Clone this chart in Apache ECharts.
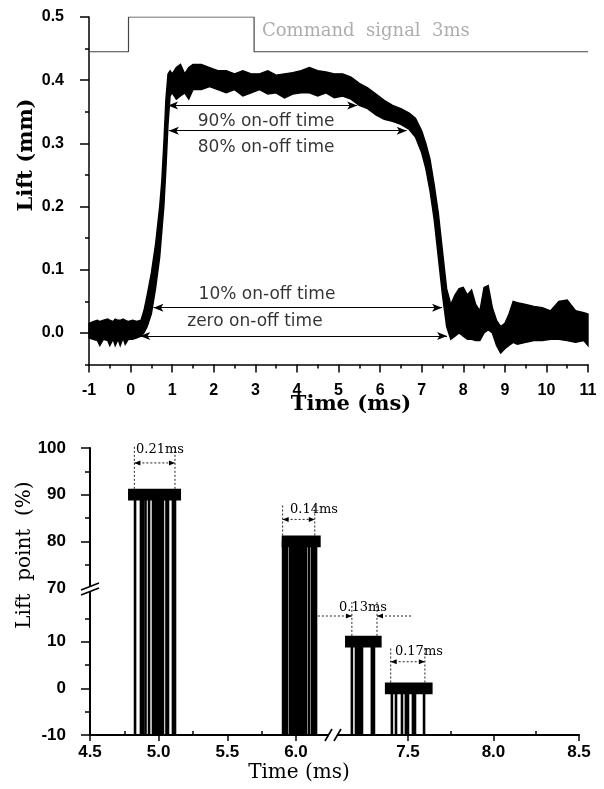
<!DOCTYPE html>
<html><head><meta charset="utf-8">
<script src="https://cdn.jsdelivr.net/npm/echarts@6/dist/echarts.min.js"></script>
<style>html,body{margin:0;padding:0;background:#fff}#c{width:604px;height:789px}</style>
</head><body><div id="c"></div>
<script>
// ---------- top panel data ----------
const cmdTime = [-1, -0.05, -0.05, 2.97, 2.97, 11];
const cmdLift = [0.445, 0.445, 0.5, 0.5, 0.445, 0.445];
const liftTime = [-1.0,-0.9,-0.8,-0.74,-0.65,-0.55,-0.5,-0.42,-0.37,-0.3,-0.25,-0.18,-0.13,-0.05,0.05,0.15,0.25,0.32,0.4,0.5,0.6,0.7,0.75,0.8,0.85,0.9,0.95,1.0,1.1,1.2,1.3,1.4,1.5,1.7,1.9,2.1,2.3,2.5,2.7,2.9,3.1,3.3,3.5,3.7,3.9,4.1,4.3,4.5,4.7,4.9,5.1,5.3,5.5,5.7,5.9,6.1,6.3,6.5,6.7,6.85,7.0,7.1,7.2,7.3,7.4,7.5,7.6,7.7,7.8,7.9,8.0,8.1,8.2,8.3,8.4,8.5,8.6,8.7,8.8,8.9,9.0,9.1,9.2,9.3,9.5,9.7,9.9,10.1,10.3,10.5,10.7,10.9,11.0];
const liftLow = [-0.008,-0.01,-0.012,-0.02,-0.01,-0.012,-0.02,-0.01,-0.02,-0.01,-0.02,-0.008,-0.018,-0.01,-0.01,-0.008,-0.005,0.0,0.01,0.03,0.07,0.12,0.16,0.2,0.26,0.33,0.375,0.38,0.37,0.375,0.38,0.37,0.385,0.385,0.39,0.385,0.38,0.385,0.375,0.38,0.385,0.378,0.38,0.372,0.378,0.38,0.38,0.375,0.38,0.372,0.375,0.37,0.36,0.355,0.345,0.338,0.335,0.33,0.322,0.31,0.285,0.26,0.225,0.18,0.12,0.06,0.01,-0.01,-0.005,0.0,-0.005,-0.01,-0.01,-0.012,-0.012,0.0,0.005,0.0,-0.02,-0.032,-0.025,-0.02,-0.015,-0.018,-0.015,-0.012,-0.012,-0.01,-0.01,-0.012,-0.015,-0.012,-0.02];
const liftHigh = [0.015,0.018,0.02,0.018,0.02,0.022,0.02,0.018,0.022,0.02,0.02,0.022,0.02,0.018,0.02,0.018,0.02,0.035,0.06,0.095,0.14,0.2,0.24,0.3,0.37,0.41,0.415,0.41,0.42,0.425,0.41,0.42,0.425,0.425,0.42,0.415,0.415,0.41,0.415,0.41,0.41,0.415,0.408,0.41,0.412,0.415,0.42,0.415,0.413,0.41,0.41,0.405,0.395,0.388,0.378,0.368,0.36,0.355,0.348,0.34,0.32,0.3,0.275,0.235,0.19,0.13,0.07,0.045,0.06,0.07,0.072,0.06,0.068,0.045,0.035,0.072,0.075,0.04,0.02,0.01,0.015,0.03,0.05,0.048,0.045,0.042,0.04,0.035,0.05,0.052,0.035,0.032,0.03];
const xTicksTop = [-1,0,1,2,3,4,5,6,7,8,9,10,11];
const xMinorTop = [-0.5,0.5,1.5,2.5,3.5,4.5,5.5,6.5,7.5,8.5,9.5,10.5];
const yTicksTop = [0,0.1,0.2,0.3,0.4,0.5];
const yMinorTop = [-0.05,0.05,0.15,0.25,0.35,0.45];
const onOffNames = ['90% on-off time','80% on-off time','10% on-off time','zero on-off time'];
const onOffStart = [0.90, 0.92, 0.55, 0.23];
const onOffEnd = [5.45, 6.64, 7.49, 7.61];
const onOffLevel = [0.36, 0.32, 0.04, -0.005];
const onOffLabelX = [3.26, 3.26, 3.28, 2.99];
const onOffLabelY = [0.334, 0.294, 0.060, 0.0174];
const cmdLabel = 'Command  signal  3ms';
const cmdLabelX = 3.16, cmdLabelY = 0.478;

// ---------- bottom panel data ----------
const pointLevels = [90, 80, 10, 0];
const pointTimes = [
  [4.828,4.871,4.886,4.904,4.930,4.959,4.973,4.988,5.002,5.017,5.031,5.057,5.068,5.104,5.119],
  [5.906,5.920,5.935,5.957,5.972,5.986,6.000,6.015,6.030,6.044,6.059,6.073,6.095,6.117,6.131,6.146],
  [7.172,7.196,7.208,7.219,7.231,7.289,7.301],
  [7.406,7.430,7.465,7.488,7.500,7.529,7.541,7.594]
];
const capStart = [4.777, 5.896, 7.132, 7.365];
const capEnd = [5.163, 6.180, 7.346, 7.644];
const spanLabels = ['0.21ms','0.14ms','0.13ms','0.17ms'];
const spanLeft = [4.823, 5.903, 7.172, 7.399];
const spanRight = [5.119, 6.137, 7.319, 7.599];
const spanArrowY = [96.8, 84.7, 15.5, 5.7];
const spanLabelY = [99.6, 86.7, 17.4, 7.9];
const spanLabelX = [5.01, 6.131, 7.237, 7.564];
const spanInward = [false, false, true, false];
const xTicksBottom = [4.5,5.0,5.5,6.0,7.5,8.0,8.5];
const xMinorBottom = [4.75,5.25,5.75,7.75,8.25];
const yLabelsBottom = [-10,0,10,70,80,90,100];
const yTicksBottom = [-10,0,10,80,90,100];
const yMinorBottom = [-5,5,15,75,85,95];

// ---------- broken-axis transforms (bottom panel) ----------
const X_SPLIT = 6.6, X_BASE2 = 6.8156, X_SCALE2 = 1.2455, X_ORIG2 = 7.5;
const Y_SPLIT = 40, Y_SHIFT = 48.5;
const xT = v => v < X_SPLIT ? v : X_BASE2 + (v - X_ORIG2) * X_SCALE2;
const xInv = v => v < 6.5 ? v : X_ORIG2 + (v - X_BASE2) / X_SCALE2;
const yT = v => v > Y_SPLIT ? v - Y_SHIFT : v;
const yInv = v => v > 21 ? v + Y_SHIFT : v;
const X_BREAK = 6.2695, Y_BREAK = 21.3;

const chart = echarts.init(document.getElementById('c'), null, {renderer:'canvas'});

const traceData = [];
pointTimes.forEach((arr,g)=>arr.forEach(t=>traceData.push([xT(t), yT(pointLevels[g])])));
const capData = pointLevels.map((l,g)=>[xT(capStart[g]), xT(capEnd[g]), yT(l)]);
const spanData = pointLevels.map((l,g)=>[xT(spanLeft[g]), xT(spanRight[g]), yT(l), yT(spanArrowY[g]), yT(spanLabelY[g]), g, xT(spanLabelX[g])]);

function arrowHead(x, y, dir){
  return {type:'polygon', shape:{points:[[x,y],[x-dir*6,y-2.5],[x-dir*6,y+2.5]]}, style:{fill:'#000'}};
}

const axisBlack = {color:'#000', width:1.5};
const tickFontTop = {color:'#000', fontFamily:'Liberation Sans', fontWeight:'bold', fontSize:16};
const tickFontBot = {color:'#000', fontFamily:'Liberation Sans', fontWeight:'bold', fontSize:17};

const option = {
  animation:false,
  backgroundColor:'#fff',
  grid:[
    {left:89, top:17, width:499, height:347.5},
    {left:90, top:448, width:489, height:287}
  ],
  xAxis:[
    {gridIndex:0, type:'value', position:'bottom', min:-1, max:11, splitLine:{show:false},
     axisLine:{onZero:false, lineStyle:axisBlack},
     axisTick:{customValues:xTicksTop, length:8, lineStyle:axisBlack},
     axisLabel:Object.assign({customValues:xTicksTop, margin:18, formatter:v=>String(Math.round(v))}, tickFontTop)},
    {gridIndex:0, type:'value', position:'bottom', min:-1, max:11, splitLine:{show:false},
     axisLine:{show:false, onZero:false}, axisLabel:{show:false},
     axisTick:{customValues:xMinorTop, length:4, lineStyle:axisBlack}},
    {gridIndex:1, type:'value', position:'bottom', min:4.5, max:xT(8.5), splitLine:{show:false},
     axisLine:{onZero:false, lineStyle:{color:'#000', width:2}},
     axisTick:{customValues:xTicksBottom.map(xT), length:6, lineStyle:axisBlack},
     axisLabel:Object.assign({customValues:xTicksBottom.map(xT), margin:9, formatter:v=>xInv(v).toFixed(1)}, tickFontBot)},
    {gridIndex:1, type:'value', position:'bottom', min:4.5, max:xT(8.5), splitLine:{show:false},
     axisLine:{show:false, onZero:false}, axisLabel:{show:false},
     axisTick:{customValues:xMinorBottom.map(xT), length:4, inside:true, lineStyle:axisBlack}}
  ],
  yAxis:[
    {gridIndex:0, type:'value', position:'left', min:-0.05, max:0.5, splitLine:{show:false},
     axisLine:{onZero:false, lineStyle:axisBlack},
     axisTick:{customValues:yTicksTop, length:9, lineStyle:axisBlack},
     axisLabel:Object.assign({customValues:yTicksTop, margin:25, formatter:v=>v.toFixed(1)}, tickFontTop)},
    {gridIndex:0, type:'value', position:'left', min:-0.05, max:0.5, splitLine:{show:false},
     axisLine:{show:false, onZero:false}, axisLabel:{show:false},
     axisTick:{customValues:yMinorTop, length:4, lineStyle:axisBlack}},
    {gridIndex:1, type:'value', position:'left', min:-10, max:yT(100), splitLine:{show:false},
     axisLine:{onZero:false, lineStyle:{color:'#000', width:2}},
     axisTick:{customValues:yTicksBottom.map(yT), length:9, lineStyle:axisBlack},
     axisLabel:Object.assign({customValues:yLabelsBottom.map(yT), margin:24, formatter:v=>String(Math.round(yInv(v)))}, tickFontBot)},
    {gridIndex:1, type:'value', position:'left', min:-10, max:yT(100), splitLine:{show:false},
     axisLine:{show:false, onZero:false}, axisLabel:{show:false},
     axisTick:{customValues:yMinorBottom.map(yT), length:5, lineStyle:axisBlack}}
  ],
  series:[
    {type:'line', name:'command', xAxisIndex:0, yAxisIndex:0, data:cmdTime.map((t,i)=>[t,cmdLift[i]]),
     showSymbol:false, lineStyle:{color:'#444', width:1.2}, z:3},
    {type:'custom', name:'lift', xAxisIndex:0, yAxisIndex:0, data:[[0]], z:4,
     renderItem:(p,api)=>{
       const pts = [];
       for(let i=0;i<liftTime.length;i++) pts.push(api.coord([liftTime[i], liftHigh[i]]));
       for(let i=liftTime.length-1;i>=0;i--) pts.push(api.coord([liftTime[i], liftLow[i]]));
       return {type:'polygon', shape:{points:pts}, style:{fill:'#000', stroke:'#000', lineWidth:1.4}};
     }},
    {type:'scatter', name:'onoff', xAxisIndex:0, yAxisIndex:0, symbolSize:0, z:6,
     data:onOffNames.map((n,i)=>({name:n, value:[onOffLabelX[i], onOffLabelY[i]]})),
     label:{show:true, position:'inside', formatter:'{b}', color:'#000', fontFamily:'DejaVu Sans', fontSize:17},
     markLine:{silent:true, symbol:['arrow','arrow'], symbolSize:[6,10], label:{show:false},
       lineStyle:{color:'#000', width:1, type:'solid'},
       data:onOffNames.map((n,i)=>[{coord:[onOffStart[i], onOffLevel[i]]},{coord:[onOffEnd[i], onOffLevel[i]]}])}},
    {type:'scatter', name:'cmdlabel', xAxisIndex:0, yAxisIndex:0, symbolSize:0, z:6,
     data:[{name:cmdLabel, value:[cmdLabelX, cmdLabelY]}],
     label:{show:true, position:'right', distance:0, formatter:'{b}', color:'#999', fontFamily:'DejaVu Serif', fontSize:18}},
    {type:'custom', name:'traces', xAxisIndex:2, yAxisIndex:2, data:traceData, z:3,
     renderItem:(p,api)=>{
       const top = api.coord([api.value(0), api.value(1)]);
       const base = api.coord([api.value(0), -10]);
       return {type:'line', shape:{x1:top[0],y1:top[1],x2:base[0],y2:base[1]}, style:{stroke:'#000', lineWidth:2.6}};
     }},
    {type:'custom', name:'caps', xAxisIndex:2, yAxisIndex:2, data:capData, z:4,
     renderItem:(p,api)=>{
       const a = api.coord([api.value(0), api.value(2)+1.25]);
       const b = api.coord([api.value(1), api.value(2)-1.25]);
       return {type:'rect', shape:{x:a[0], y:a[1], width:b[0]-a[0], height:b[1]-a[1]}, style:{fill:'#000'}};
     }},
    {type:'custom', name:'spans', xAxisIndex:2, yAxisIndex:2, data:spanData, z:5, clip:false,
     renderItem:(p,api)=>{
       const xl=api.value(0), xr=api.value(1), lvl=api.value(2), ay=api.value(3), ly=api.value(4), k=api.value(5), lx=api.value(6);
       const capTop = lvl + 1.25;
       const pLb=api.coord([xl,capTop]), pRb=api.coord([xr,capTop]);
       const pLt=api.coord([xl,ly]), pRt=api.coord([xr,ly]);
       const aL=api.coord([xl,ay]), aR=api.coord([xr,ay]);
       const lab=api.coord([lx,ly]);
       const dash={stroke:'#222', lineWidth:1, lineDash:[2,2]};
       const ch=[
         {type:'line', shape:{x1:pLb[0],y1:pLb[1],x2:pLt[0],y2:pLt[1]-5}, style:dash},
         {type:'line', shape:{x1:pRb[0],y1:pRb[1],x2:pRt[0],y2:pRt[1]-5}, style:dash}
       ];
       const y=aL[1];
       if(!spanInward[k]){
         ch.push({type:'line', shape:{x1:aL[0],y1:y,x2:aR[0],y2:y}, style:dash});
         ch.push(arrowHead(aL[0],y,-1)); ch.push(arrowHead(aR[0],y,1));
       } else {
         ch.push({type:'line', shape:{x1:aL[0]-34,y1:y,x2:aL[0],y2:y}, style:dash});
         ch.push({type:'line', shape:{x1:aR[0],y1:y,x2:aR[0]+35,y2:y}, style:dash});
         ch.push(arrowHead(aL[0],y,1)); ch.push(arrowHead(aR[0],y,-1));
       }
       ch.push({type:'text', x:lab[0], y:lab[1], style:{text:spanLabels[k], fill:'#000', fontFamily:'DejaVu Serif', fontSize:13, align:'center', verticalAlign:'middle'}});
       return {type:'group', children:ch};
     }},
    {type:'custom', name:'breaks', xAxisIndex:2, yAxisIndex:2, data:[[X_BREAK,-10,0],[4.5,Y_BREAK,1]], z:6, clip:false,
     renderItem:(p,api)=>{
       const c = api.coord([api.value(0), api.value(1)]);
       const k = api.value(2);
       const st = {stroke:'#000', lineWidth:1.6};
       if(k===0){
         return {type:'group', children:[
           {type:'polygon', shape:{points:[[c[0]-7,c[1]+5],[c[0]-1,c[1]-5],[c[0]+7,c[1]-5],[c[0]+1,c[1]+5]]}, style:{fill:'#fff'}},
           {type:'line', shape:{x1:c[0]-8,y1:c[1]+6,x2:c[0]-1,y2:c[1]-6}, style:st},
           {type:'line', shape:{x1:c[0]+1,y1:c[1]+6,x2:c[0]+8,y2:c[1]-6}, style:st}
         ]};
       }
       return {type:'group', children:[
         {type:'polygon', shape:{points:[[c[0]-9,c[1]+1],[c[0]+9,c[1]-6],[c[0]+9,c[1]-1],[c[0]-9,c[1]+6]]}, style:{fill:'#fff'}},
         {type:'line', shape:{x1:c[0]-9,y1:c[1]+1,x2:c[0]+9,y2:c[1]-6}, style:st},
         {type:'line', shape:{x1:c[0]-9,y1:c[1]+6,x2:c[0]+9,y2:c[1]-1}, style:st}
       ]};
     }}
  ],
  graphic:[
    {type:'text', x:27, y:155, rotation:Math.PI/2, style:{text:'Lift (mm)', fill:'#000', fontFamily:'DejaVu Serif', fontWeight:'bold', fontSize:21, align:'center', verticalAlign:'middle'}},
    {type:'text', x:351, y:405, style:{text:'Time (ms)', fill:'#000', fontFamily:'DejaVu Serif', fontWeight:'bold', fontSize:21, align:'center', verticalAlign:'middle'}},
    {type:'text', x:25, y:555, rotation:Math.PI/2, style:{text:'Lift  point  (%)', fill:'#000', fontFamily:'DejaVu Serif', fontSize:20, align:'center', verticalAlign:'middle'}},
    {type:'text', x:299, y:773, style:{text:'Time (ms)', fill:'#000', fontFamily:'DejaVu Serif', fontSize:20, align:'center', verticalAlign:'middle'}}
  ]
};
chart.setOption(option);
</script></body></html>
